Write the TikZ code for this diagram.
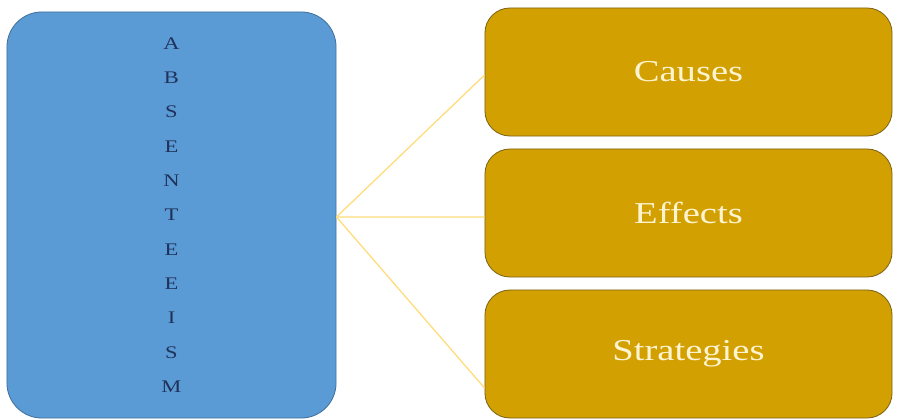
\documentclass[tikz,border=0pt]{standalone}
\usepackage{fontspec}
\setmainfont[FakeStretch=1.27]{Liberation Serif}
\usetikzlibrary{positioning}

\definecolor{boxblue}{RGB}{91,155,213}
\definecolor{edgeblue}{RGB}{65,113,156}
\definecolor{navy}{RGB}{31,50,90}
\definecolor{boxgold}{RGB}{210,160,0}
\definecolor{edgegold}{RGB}{125,100,25}
\definecolor{cream}{RGB}{255,244,210}
\definecolor{linegold}{RGB}{255,220,120}

\begin{document}
\begin{tikzpicture}[
    % GLOBAL CFG
    x=0.025cm, y=-0.025cm,
    % Styles
    mainbox/.style={% For the big box on the left
        rectangle,
        rounded corners=0.875cm,
        draw=edgeblue,
        fill=boxblue,
        line width=0.6pt,
        minimum width=8.225cm,
        minimum height=10.15cm,
        text=navy,
        align=center,
        font=\fontsize{12.6}{24.4}\selectfont,
        },
    topic/.style={% For the boxes on the right
        rectangle,
        rounded corners=0.625cm,
        draw=edgegold,
        fill=boxgold,
        line width=0.6pt,
        minimum width=10.175cm,
        minimum height=3.2cm,
        text=cream,
        font=\fontsize{21.6}{25}\selectfont,
        },
    link/.style={% Lines from the main box
        draw=linegold,
        line width=0.9pt,
        },
    ]

    \useasboundingbox (0,0) rectangle (898,419);

    % Draw the main box
    \node [mainbox] (absent) at (171.5,215)
        {A\\B\\S\\E\\N\\T\\E\\E\\I\\S\\M};

    % Draw the topics
    \node [topic] (causes) at (688.5,72) {Causes};
    \node [topic] (effects) at (688.5,213) {Effects};
    \node [topic] (strat) at (688.5,354) {Strategies};

    % Connect all
    \draw [link] ([yshift=-0.05cm]absent.east) -- ([yshift=-0.075cm]causes.west);
    \draw [link] ([yshift=-0.05cm]absent.east) -- ([yshift=-0.1cm]effects.west);
    \draw [link] ([yshift=-0.05cm]absent.east) -- ([yshift=-0.85cm]strat.west);
\end{tikzpicture}
\end{document}
